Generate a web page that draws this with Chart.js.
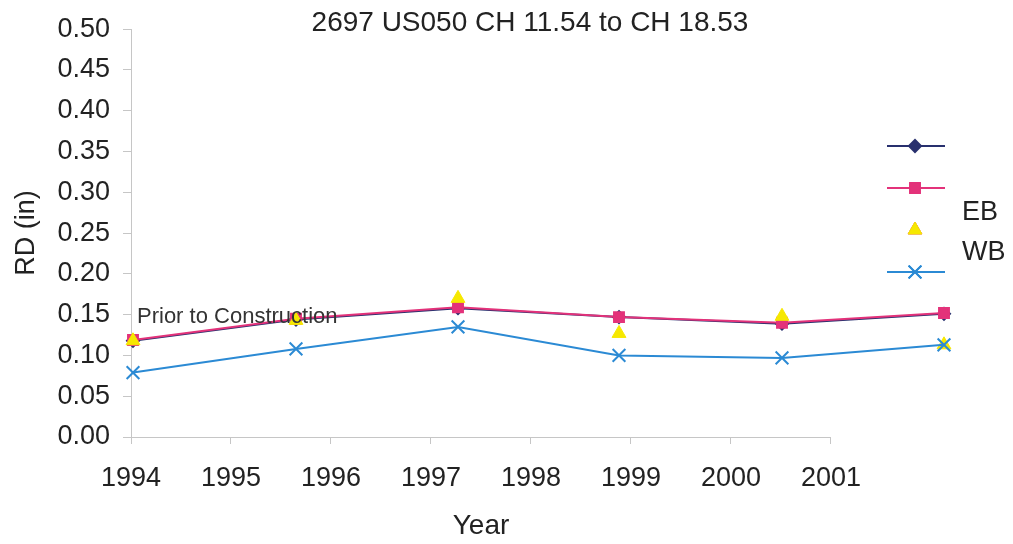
<!DOCTYPE html>
<html>
<head>
<meta charset="utf-8">
<title>2697 US050 CH 11.54 to CH 18.53</title>
<script src="https://cdn.jsdelivr.net/npm/chart.js@4.4.1/dist/chart.umd.min.js"></script>
<style>
  html, body { margin: 0; padding: 0; background: #fff; }
  #wrap { position: relative; width: 1013px; height: 544px; }
</style>
</head>
<body>
<div id="wrap"><canvas id="rdChart"></canvas></div>
<script>
// survey dates (fractional years) and rut depth in inches
var surveyYears = [1994.02, 1995.65, 1997.27, 1998.88, 2000.51, 2002.13];
var series1 = [0.118, 0.144, 0.158, 0.147, 0.139, 0.151];
var series2 = [0.119, 0.145, 0.159, 0.147, 0.140, 0.152];
var ebValues = [0.118, 0.143, 0.170, 0.127, 0.148, 0.113];
var wbValues = [0.079, 0.108, 0.135, 0.100, 0.097, 0.113];
var seriesNames = ['', '', 'EB', 'WB'];
var yearTicks = [1994, 1995, 1996, 1997, 1998, 1999, 2000, 2001];
var chartTitle = '2697 US050 CH 11.54 to CH 18.53';
var note = 'Prior to Construction';

var FONT = "'Liberation Sans', Arial, sans-serif";
var TEXT = '#222';
var AXIS = '#c6c6c6';
var NAVY = '#28306e';
var PINK = '#e3327a';
var YELLOW = '#f6e800';
var BLUE = '#2b8ad4';

Chart.defaults.font.family = FONT;
Chart.defaults.color = TEXT;

function pts(vals) {
    return vals.map(function(v, i) { return { x: surveyYears[i], y: v }; });
}

// title, x title, note, axis line and the odd excel legend
var extras = {
    id: 'extras',
    afterDraw: function(chart) {
        var ctx = chart.ctx;
        var xs = chart.scales.x;
        var ys = chart.scales.y;
        ctx.save();

        // x axis line only runs to the last year tick
        ctx.strokeStyle = AXIS;
        ctx.lineWidth = 1;
        ctx.beginPath();
        ctx.moveTo(xs.getPixelForValue(yearTicks[0]), chart.chartArea.bottom + 0.5);
        ctx.lineTo(xs.getPixelForValue(yearTicks[yearTicks.length - 1]), chart.chartArea.bottom + 0.5);
        ctx.stroke();

        ctx.fillStyle = TEXT;
        ctx.textBaseline = 'middle';
        ctx.textAlign = 'center';
        ctx.font = '28px ' + FONT;
        ctx.fillText(chartTitle, 530, 23);
        var xMid = (xs.getPixelForValue(yearTicks[0]) + xs.getPixelForValue(yearTicks[yearTicks.length - 1])) / 2;
        ctx.fillText('Year', xMid, 526);

        ctx.textAlign = 'left';
        ctx.font = '22px ' + FONT;
        ctx.fillStyle = '#333';
        ctx.fillText(note, xs.getPixelForValue(yearTicks[0]) + 6, ys.getPixelForValue(0.147));

        // legend samples
        var rows = [146, 188, 230, 272];
        chart.data.datasets.forEach(function(ds, i) {
            var y = rows[i];
            if (ds.showLine !== false) {
                ctx.strokeStyle = ds.borderColor;
                ctx.lineWidth = 2;
                ctx.beginPath();
                ctx.moveTo(887, y);
                ctx.lineTo(945, y);
                ctx.stroke();
            }
            Chart.helpers.drawPoint(ctx, {
                pointStyle: ds.pointStyle,
                radius: ds.pointRadius,
                rotation: 0,
                borderWidth: ds.pointBorderWidth || 1
            }, 915, y);
            ctx.fillStyle = ds.pointBackgroundColor;
            ctx.strokeStyle = ds.pointBorderColor;
            ctx.lineWidth = ds.pointBorderWidth || 1;
            ctx.fill();
            ctx.stroke();
        });
        ctx.fillStyle = TEXT;
        ctx.font = '27px ' + FONT;
        ctx.fillText(seriesNames[2], 962, 213);
        ctx.fillText(seriesNames[3], 962, 253);
        ctx.restore();
    }
};

new Chart(document.getElementById('rdChart'), {
    type: 'line',
    data: {
        datasets: [{
            label: seriesNames[0],
            data: pts(series1),
            borderColor: NAVY,
            borderWidth: 2,
            pointStyle: 'rectRot',
            pointRadius: 6,
            pointBackgroundColor: NAVY,
            pointBorderColor: NAVY,
            order: 4
        }, {
            label: seriesNames[1],
            data: pts(series2),
            borderColor: PINK,
            borderWidth: 2,
            pointStyle: 'rect',
            pointRadius: 7,
            pointBackgroundColor: PINK,
            pointBorderColor: PINK,
            order: 3
        }, {
            label: seriesNames[2],
            data: pts(ebValues),
            showLine: false,
            borderColor: YELLOW,
            pointStyle: 'triangle',
            pointRadius: 8,
            pointBackgroundColor: YELLOW,
            pointBorderColor: YELLOW,
            order: 2
        }, {
            label: seriesNames[3],
            data: pts(wbValues),
            borderColor: BLUE,
            borderWidth: 2,
            pointStyle: 'crossRot',
            pointRadius: 9,
            pointBorderWidth: 2,
            pointBackgroundColor: BLUE,
            pointBorderColor: BLUE,
            order: 1
        }]
    },
    options: {
        responsive: true,
        maintainAspectRatio: false,
        animation: false,
        clip: false,
        layout: { padding: { top: 25, right: 62, bottom: 0, left: 0 } },
        plugins: {
            legend: { display: false },
            tooltip: { enabled: false },
            title: { display: false }
        },
        scales: {
            x: {
                type: 'linear',
                min: 1994,
                max: 2002.2,
                afterBuildTicks: function(s) {
                    s.ticks = yearTicks.map(function(v) { return { value: v }; });
                },
                afterFit: function(s) { s.height = 107; },
                border: { display: false },
                grid: { drawOnChartArea: false, drawTicks: true, tickLength: 7, color: AXIS },
                ticks: {
                    font: { size: 27 },
                    padding: 18,
                    maxRotation: 0,
                    autoSkip: false,
                    callback: function(v) { return String(v); }
                }
            },
            y: {
                min: 0,
                max: 0.5,
                afterFit: function(s) { s.width = 131; },
                border: { color: AXIS, width: 1 },
                grid: { drawOnChartArea: false, drawTicks: true, tickLength: 8, color: AXIS },
                ticks: {
                    stepSize: 0.05,
                    font: { size: 27 },
                    padding: 13,
                    callback: function(v) { return v.toFixed(2); }
                },
                title: {
                    display: true,
                    text: 'RD (in)',
                    font: { size: 27 },
                    padding: { top: 10, bottom: 0 }
                }
            }
        }
    },
    plugins: [extras]
});
</script>
</body>
</html>
